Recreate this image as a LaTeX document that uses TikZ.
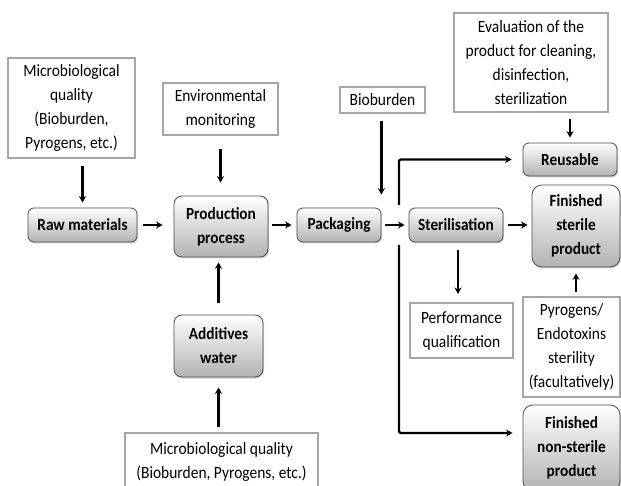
\documentclass[tikz,border=0pt]{standalone}
\usepackage{fontspec}
\setmainfont{Carlito}[FakeStretch=0.9]
\usetikzlibrary{arrows.meta,positioning,shadows}

\begin{document}
\begin{tikzpicture}[x=1pt, y=-1pt,
    proc/.style={draw=black!70, line width=0.8pt, rounded corners=6pt, align=center, inner sep=0pt,
        font=\fontsize{17}{24}\selectfont\bfseries, top color=white, bottom color=black!30,
        drop shadow={shadow xshift=1pt, shadow yshift=-1.5pt, opacity=0.35}},
    note/.style={draw=black!35, line width=2pt, fill=white, align=center, inner sep=0pt,
        font=\fontsize{17.2}{24}\selectfont},
    arr/.style={-{Stealth[length=6.5pt, width=7pt]}, line width=2.3pt}
]
\path[use as bounding box, fill=white] (0,0) rectangle (621,486);

% inputs on the left
\node[note, minimum width=127pt, minimum height=100pt] (mq) at (71.5,108) {Microbiological\\quality\\(Bioburden,\\Pyrogens, etc.)};
\node[proc, minimum width=109pt, minimum height=34pt] (raw) at (82.5,225) {Raw materials};
\node[note, minimum width=115pt, minimum height=52pt] (env) at (220.5,109) {Environmental\\monitoring};
\node[proc, minimum width=94pt, minimum height=61pt, rounded corners=8pt] (prod) at (221,226.5) {Production\\process};
\node[proc, minimum width=89pt, minimum height=62pt, rounded corners=8pt] (add) at (218.5,346) {Additives\\water};
\node[note, minimum width=193pt, minimum height=58pt] (mqb) at (221.5,462) {Microbiological quality\\(Bioburden, Pyrogens, etc.)};

% middle
\node[proc, minimum width=84pt, minimum height=34pt] (pack) at (339,225) {Packaging};
\node[note, minimum width=85pt, minimum height=26pt] (bio) at (382.5,100) {Bioburden};
\node[proc, minimum width=94pt, minimum height=34pt] (ster) at (456,225) {Sterilisation};
\node[note, minimum width=103pt, minimum height=55pt] (perf) at (461.5,330.5) {Performance\\qualification};

% outputs on the right
\node[note, minimum width=154pt, minimum height=99pt] (eval) at (531,62.5) {Evaluation of the\\product for cleaning,\\disinfection,\\sterilization};
\node[proc, minimum width=94pt, minimum height=33pt] (reus) at (570,159.5) {Reusable};
\node[proc, minimum width=88pt, minimum height=82pt, rounded corners=10pt] (fin) at (576,226) {Finished\\sterile\\product};
\node[note, minimum width=97pt, minimum height=100pt] (pyro) at (571.5,347) {Pyrogens/\\Endotoxins\\sterility\\(facultatively)};
\node[proc, minimum width=97pt, minimum height=86pt, rounded corners=10pt] (nonst) at (571.5,448) {Finished\\non-sterile\\product};

\coordinate (jt) at (399,205);
\coordinate (jb) at (399,245);

\draw[arr, shorten <=7pt, shorten >=5pt] (mq.south -| raw.north) -- (raw.north);
\draw[arr, shorten <=6pt, shorten >=11pt] (raw.east) -- (raw.east -| prod.west);
\draw[arr, shorten <=13pt, shorten >=13pt] (env.south) -- (env.south |- prod.north);
\draw[arr, shorten <=4pt, shorten >=5pt] (prod.east |- pack.west) -- (pack.west);
\draw[arr, shorten <=12pt, shorten >=5pt] (add.north) -- (add.north |- prod.south);
\draw[arr, shorten <=5pt, shorten >=10pt] (mqb.north -| add.south) -- (add.south);
\draw[arr, shorten <=7pt, shorten >=13pt] (bio.south -| pack.north east) -- (pack.north east);
\draw[arr, shorten <=4pt, shorten >=4pt] (pack.east) -- (ster.west);
\draw[arr, shorten <=5pt, shorten >=4pt] (ster.east) -- (ster.east -| fin.west);
\draw[arr, shorten <=8pt, shorten >=8pt] ([xshift=2pt]ster.south) -- ([xshift=2pt]ster.south |- perf.north);
\draw[arr, shorten <=6pt, shorten >=5pt] (eval.south -| reus.north) -- (reus.north);
\draw[arr, shorten <=4pt, shorten >=6pt] (pyro.north -| fin.south) -- (fin.south);
\draw[arr, rounded corners=2pt, shorten >=11pt] (jt) |- (reus.west);
\draw[arr, rounded corners=2pt, shorten >=10pt] (jb) |- ([yshift=15pt]nonst.west);
\end{tikzpicture}
\end{document}
